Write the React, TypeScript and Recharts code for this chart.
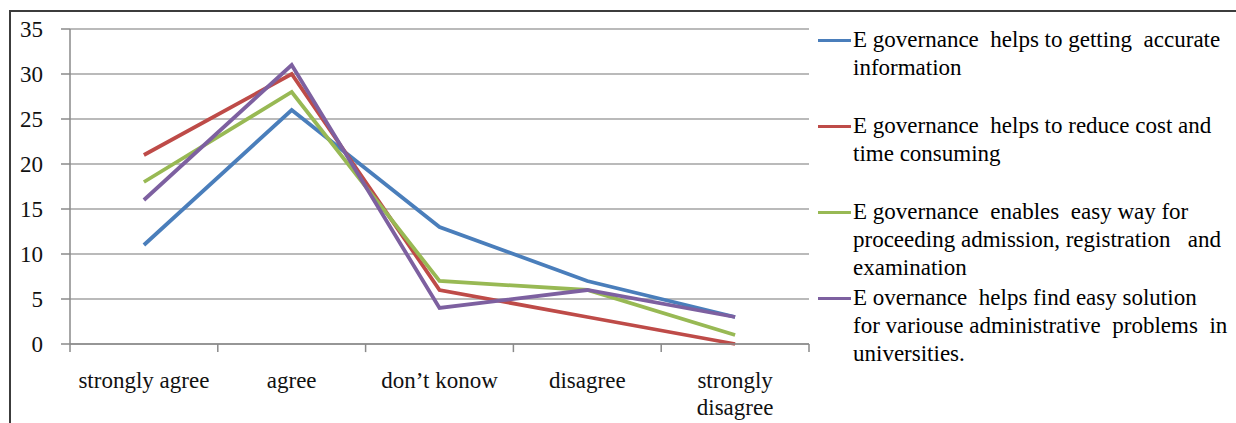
import React from 'react';
import { LineChart, Line, XAxis, YAxis, CartesianGrid, Legend, ReferenceLine } from 'recharts';

const categories = ['strongly agree', 'agree', 'don\u2019t konow', 'disagree', 'strongly disagree'];
const categoryLabelLines = [['strongly agree'], ['agree'], ['don\u2019t konow'], ['disagree'], ['strongly', 'disagree']];
const accurateInfo = [11, 26, 13, 7, 3];
const reduceCost = [21, 30, 6, 3, 0];
const easyAdmission = [18, 28, 7, 6, 1];
const adminSolution = [16, 31, 4, 6, 3];
const yTicks = [0, 5, 10, 15, 20, 25, 30, 35];

const legendLines1 = ['E governance  helps to getting  accurate', 'information'];
const legendLines2 = ['E governance  helps to reduce cost and', 'time consuming'];
const legendLines3 = ['E governance  enables  easy way for', 'proceeding admission, registration   and', 'examination'];
const legendLines4 = ['E overnance  helps find easy solution', 'for variouse administrative  problems  in', 'universities.'];

const series = [
  { key: 'a', name: legendLines1.join(' '), values: accurateInfo, color: '#4A7EBB', lines: legendLines1 },
  { key: 'b', name: legendLines2.join(' '), values: reduceCost, color: '#BE4B48', lines: legendLines2 },
  { key: 'c', name: legendLines3.join(' '), values: easyAdmission, color: '#98B954', lines: legendLines3 },
  { key: 'd', name: legendLines4.join(' '), values: adminSolution, color: '#7D60A0', lines: legendLines4 },
];

const data = categories.map((c, i) => {
  const row: Record<string, string | number> = { category: c };
  series.forEach((s) => {
    row[s.key] = s.values[i];
  });
  return row;
});

const FONT = "Liberation Serif, Tinos, 'DejaVu Serif', serif";
const FS = 23;
const GRID = '#a3a3a3';
const AXIS = '#8a8a8a';
const TICK_DEPTH = -0.9; // tick mark length below zero, in value units

const CategoryTick = (props: any) => {
  const { x, y, index } = props;
  const lines = categoryLabelLines[index] || [String(props.payload.value)];
  return (
    <text x={x} y={y} textAnchor="middle" fill="#111" fontSize={FS} fontFamily={FONT}>
      {lines.map((l, i) => (
        <tspan key={i} x={x} dy={i === 0 ? '0.71em' : 27}>
          {l}
        </tspan>
      ))}
    </text>
  );
};

const LegendContent = () => (
  <div style={{ fontFamily: FONT, fontSize: FS, color: '#000', lineHeight: '28px' }}>
    {series.map((s) => (
      <div key={s.key} style={{ position: 'relative', height: 86, paddingLeft: 35, whiteSpace: 'pre' }}>
        <div
          style={{
            position: 'absolute',
            left: 0,
            top: 13,
            width: 33,
            height: 3,
            background: s.color,
          }}
        />
        {s.lines.map((l, i) => (
          <div key={i}>{l}</div>
        ))}
      </div>
    ))}
  </div>
);

export default function App() {
  return (
    <div
      style={{
        position: 'fixed',
        left: 0,
        top: 0,
        width: 1236,
        height: 423,
        overflow: 'hidden',
        background: '#fff',
      }}
    >
      <div
        style={{
          position: 'absolute',
          left: 9,
          top: 10,
          width: 1300,
          height: 500,
          borderLeft: '2px solid #3c3c3c',
          borderTop: '2px solid #3c3c3c',
        }}
      />
      <div style={{ position: 'absolute', left: 0, top: 0 }}>
        <LineChart
          width={1236}
          height={423}
          data={data}
          margin={{ top: 29, right: 427, left: 10, bottom: 19 }}
        >
          <CartesianGrid vertical={false} stroke={GRID} strokeWidth={1.5} />
          <XAxis
            dataKey="category"
            scale="band"
            height={60}
            axisLine={{ stroke: AXIS, strokeWidth: 1.5 }}
            tickLine={false}
            tickSize={0}
            tickMargin={28}
            interval={0}
            tick={<CategoryTick />}
          />
          <YAxis
            width={60}
            domain={[0, 35]}
            ticks={yTicks}
            tickSize={9}
            tickMargin={18}
            axisLine={{ stroke: AXIS, strokeWidth: 1.5 }}
            tickLine={{ stroke: AXIS, strokeWidth: 1.5 }}
            tick={{ fontSize: FS, fontFamily: FONT, fill: '#111' }}
          />
          {categories.map((c) => (
            <ReferenceLine
              key={'s' + c}
              segment={[{ x: c, y: 0 }, { x: c, y: TICK_DEPTH }]}
              position="start"
              ifOverflow="visible"
              stroke={AXIS}
              strokeWidth={1.5}
            />
          ))}
          <ReferenceLine
            segment={[
              { x: categories[categories.length - 1], y: 0 },
              { x: categories[categories.length - 1], y: TICK_DEPTH },
            ]}
            position="end"
            ifOverflow="visible"
            stroke={AXIS}
            strokeWidth={1.5}
          />
          <Legend
            layout="vertical"
            align="center"
            verticalAlign="middle"
            content={<LegendContent />}
            wrapperStyle={{ left: 818, top: 26, width: 418, height: 350 }}
          />
          {series.map((s) => (
            <Line
              key={s.key}
              type="linear"
              dataKey={s.key}
              name={s.name}
              stroke={s.color}
              strokeWidth={3.8}
              dot={false}
              activeDot={false}
              isAnimationActive={false}
            />
          ))}
        </LineChart>
      </div>
    </div>
  );
}
